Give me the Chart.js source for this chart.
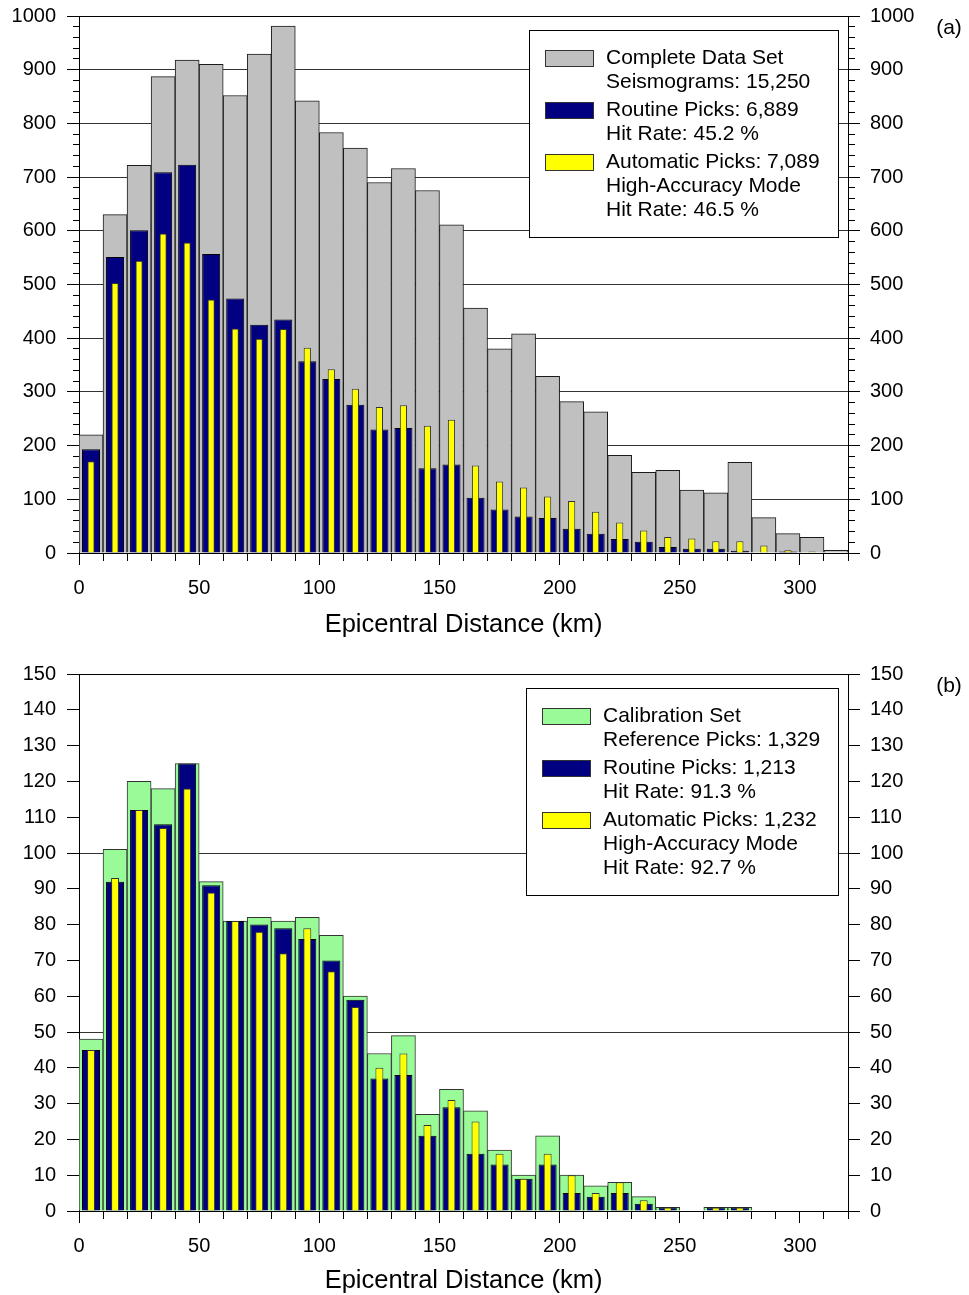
<!DOCTYPE html>
<html>
<head>
<meta charset="utf-8">
<script src="https://cdn.jsdelivr.net/npm/chart.js@4/dist/chart.umd.min.js"></script>
<style>
  html, body { margin: 0; padding: 0; background: #ffffff; overflow: hidden; }
  #wrap { position: relative; width: 969px; height: 1295px; }
  canvas { display: block; }
</style>
</head>
<body>
<div id="wrap">
  <canvas id="panelA" width="969" height="645"></canvas>
  <canvas id="panelB" width="969" height="650"></canvas>
</div>
<script>
// Epicentral distance bins (km): centres of the 10 km classes
const binCenters = [5, 15, 25, 35, 45, 55, 65, 75, 85, 95, 105, 115, 125, 135, 145, 155,
                    165, 175, 185, 195, 205, 215, 225, 235, 245, 255, 265, 275, 285, 295, 305, 315];

// Panel (a): complete data set
const completeSet  = [220, 630, 722, 887, 918, 910, 852, 929, 981, 842, 783, 754, 690, 716, 675, 611,
                      456, 380, 408, 329, 282, 263, 182, 150, 154, 117, 112, 169, 66, 36, 29, 5];
const routineA     = [193, 551, 601, 709, 723, 557, 474, 425, 435, 357, 324, 276, 230, 233, 158, 165,
                      103, 81, 68, 65, 45, 36, 26, 21, 11, 8, 8, 4, 0, 3, 1, 0];
const automaticA   = [171, 503, 544, 595, 578, 472, 418, 399, 417, 382, 342, 306, 272, 275, 237, 248,
                      163, 133, 122, 105, 97, 77, 57, 42, 30, 27, 22, 22, 14, 5, 3, 0];

// Panel (b): calibration set
const calibration  = [48, 101, 120, 118, 125, 92, 81, 82, 81, 82, 77, 60, 44, 49, 27, 34,
                      28, 17, 10, 21, 10, 7, 8, 4, 1, 0, 1, 1, 0, 0, 0, 0];
const routineB     = [45, 92, 112, 108, 125, 91, 81, 80, 79, 76, 70, 59, 37, 38, 21, 29,
                      16, 13, 9, 13, 5, 4, 5, 2, 1, 0, 1, 1, 0, 0, 0, 0];
const automaticB   = [45, 93, 112, 107, 118, 89, 81, 78, 72, 79, 67, 57, 40, 44, 24, 31,
                      25, 16, 9, 16, 10, 5, 8, 3, 1, 0, 1, 1, 0, 0, 0, 0];

// Tick labels
const xTickLabels  = [0, 50, 100, 150, 200, 250, 300];
const yTickLabelsA = [0, 100, 200, 300, 400, 500, 600, 700, 800, 900, 1000];
const yTickLabelsB = [0, 10, 20, 30, 40, 50, 60, 70, 80, 90, 100, 110, 120, 130, 140, 150];
const yGridLinesB  = [50, 100];

// Text
const axisTitle = 'Epicentral Distance (km)';
const legendA = [
  ['Complete Data Set', 'Seismograms: 15,250'],
  ['Routine Picks: 6,889', 'Hit Rate: 45.2 %'],
  ['Automatic Picks: 7,089', 'High-Accuracy Mode', 'Hit Rate: 46.5 %']
];
const legendB = [
  ['Calibration Set', 'Reference Picks: 1,329'],
  ['Routine Picks: 1,213', 'Hit Rate: 91.3 %'],
  ['Automatic Picks: 1,232', 'High-Accuracy Mode', 'Hit Rate: 92.7 %']
];

const FONT = '"Liberation Sans", Arial, Helvetica, sans-serif';
const GREY = '#c0c0c0', NAVY = '#000080', YELLOW = '#ffff00', GREEN = '#98fb98';

const toPoints = vals => binCenters.map((x, i) => ({ x: x, y: vals[i] }));

// Frame top edge, panel tag and the multi-line legend box
const panelDecor = {
  id: 'panelDecor',
  afterDraw(chart, args, opts) {
    const { ctx, chartArea: a } = chart;
    ctx.save();
    ctx.strokeStyle = '#000';
    ctx.lineWidth = 1;
    const ty = Math.round(a.top) + 0.5;
    ctx.beginPath();
    ctx.moveTo(Math.round(a.left), ty);
    ctx.lineTo(Math.round(a.right) + 1, ty);
    ctx.stroke();

    ctx.fillStyle = '#000';
    ctx.font = '21px ' + FONT;
    ctx.textAlign = 'center';
    ctx.textBaseline = 'middle';
    ctx.fillText(opts.tag, a.right + 101, a.top + 12);

    // legend
    const entries = opts.entries;
    ctx.font = '21px ' + FONT;
    ctx.textAlign = 'left';
    let maxW = 0, nLines = 0;
    entries.forEach(e => e.lines.forEach(l => { maxW = Math.max(maxW, ctx.measureText(l).width); nLines++; }));
    const padL = 15.5, sw = 48, sh = 15.5, gap = 13, padR = 19, padT = 27.5, padB = 27.5;
    const lineStep = 24.2, entryGap = 3.6;
    const boxW = padL + sw + gap + maxW + padR;
    const boxH = padT + (nLines - 1) * lineStep + (entries.length - 1) * entryGap + padB;
    const right = Math.round(a.right - 10.5) + 0.5;
    const left = Math.round(right - boxW) + 0.5;
    const top = Math.round(a.top + 14) + 0.5;
    ctx.fillStyle = '#fff';
    ctx.fillRect(left, top, right - left, boxH);
    ctx.strokeStyle = '#000';
    ctx.strokeRect(left, top, right - left, Math.round(boxH));
    let y = top + padT;
    entries.forEach(e => {
      ctx.fillStyle = e.color;
      const sx = Math.round(left + padL) + 0.5, sy = Math.round(y - sh / 2) + 0.5;
      ctx.fillRect(sx, sy, sw, sh);
      ctx.strokeStyle = '#333';
      ctx.strokeRect(sx, sy, sw, Math.round(sh));
      ctx.fillStyle = '#000';
      e.lines.forEach(line => {
        ctx.fillText(line, left + padL + sw + gap, y);
        y += lineStep;
      });
      y += entryGap;
    });
    ctx.restore();
  }
};

function isIn(list, v) {
  return list.some(t => Math.abs(t - v) < 1e-6);
}

function makeChart(canvasId, cfg) {
  const yAxis = (position) => ({
    type: 'linear',
    position: position,
    min: 0,
    max: cfg.yMax,
    afterFit: s => {
      s.width = position === 'left' ? 79 : 121;
      s.paddingTop = 0;
      s.paddingBottom = 0;
    },
    border: { display: true, color: '#000', width: 1 },
    grid: {
      drawOnChartArea: position === 'left',
      color: c => (c.tick && isIn(cfg.yGrid, c.tick.value)) ? '#333' : 'rgba(0,0,0,0)',
      lineWidth: 1,
      tickColor: '#000',
      tickWidth: 1,
      tickLength: 12,
      tickBorderDash: c => {
        if (c.tick && isIn(cfg.yLabels, c.tick.value)) return [];
        return position === 'left' ? [0, 6, 6, 100] : [6, 100];
      }
    },
    ticks: {
      stepSize: cfg.yStep,
      autoSkip: false,
      padding: position === 'left' ? 11 : 10,
      color: '#000',
      font: { family: FONT, size: 20 },
      callback: v => isIn(cfg.yLabels, v) ? String(v) : ''
    }
  });

  return new Chart(document.getElementById(canvasId), {
    type: 'bar',
    data: {
      datasets: cfg.series.map(s => ({
        label: s.label,
        data: toPoints(s.values),
        backgroundColor: s.color,
        borderColor: s.border,
        borderWidth: 1,
        barPercentage: s.width,
        categoryPercentage: 1,
        grouped: false,
        order: s.order
      }))
    },
    options: {
      responsive: false,
      animation: false,
      events: [],
      layout: { padding: { top: cfg.top, left: 0, right: 0, bottom: 0 } },
      plugins: {
        legend: { display: false },
        tooltip: { enabled: false },
        panelDecor: {
          tag: cfg.tag,
          entries: cfg.legend.map((lines, i) => ({ lines: lines, color: cfg.series[i].color }))
        }
      },
      scales: {
        x: {
          type: 'linear',
          position: 'bottom',
          min: 0,
          max: 320,
          offset: false,
          afterFit: s => {
            s.height = cfg.xAxisHeight;
            s.paddingLeft = 0;
            s.paddingRight = 0;
          },
          border: { display: true, color: '#000', width: 1 },
          grid: {
            offset: false,
            drawOnChartArea: false,
            tickColor: '#000',
            tickWidth: 1,
            tickLength: 12,
            tickBorderDash: c => (c.tick && isIn(xTickLabels, c.tick.value)) ? [] : [7, 100]
          },
          ticks: {
            stepSize: 10,
            autoSkip: false,
            maxRotation: 0,
            padding: 11,
            color: '#000',
            font: { family: FONT, size: 20 },
            callback: v => isIn(xTickLabels, v) ? String(v) : ''
          },
          title: {
            display: true,
            text: axisTitle,
            color: '#000',
            font: { family: FONT, size: 25.5, lineHeight: 1.0 },
            padding: { top: 0, bottom: cfg.titlePad }
          }
        },
        y: yAxis('left'),
        y2: yAxis('right')
      }
    },
    plugins: [panelDecor]
  });
}

makeChart('panelA', {
  top: 16,
  xAxisHeight: 92,
  titlePad: 7.25,
  yMax: 1000,
  yStep: 20,
  yLabels: yTickLabelsA,
  yGrid: yTickLabelsA,
  tag: '(a)',
  legend: legendA,
  series: [
    { label: 'Complete Data Set', values: completeSet, color: GREY,   border: '#1a1a1a', width: 1.0,  order: 3 },
    { label: 'Routine Picks',     values: routineA,    color: NAVY,   border: '#000000', width: 0.75, order: 2 },
    { label: 'Automatic Picks',   values: automaticA,  color: YELLOW, border: '#333333', width: 0.3,  order: 1 }
  ]
});

makeChart('panelB', {
  top: 29,
  xAxisHeight: 84,
  titlePad: 1.25,
  yMax: 150,
  yStep: 10,
  yLabels: yTickLabelsB,
  yGrid: yGridLinesB,
  tag: '(b)',
  legend: legendB,
  series: [
    { label: 'Calibration Set',   values: calibration, color: GREEN,  border: '#333333', width: 1.0,  order: 3 },
    { label: 'Routine Picks',     values: routineB,    color: NAVY,   border: '#000000', width: 0.75, order: 2 },
    { label: 'Automatic Picks',   values: automaticB,  color: YELLOW, border: '#333333', width: 0.33, order: 1 }
  ]
});
</script>
</body>
</html>
